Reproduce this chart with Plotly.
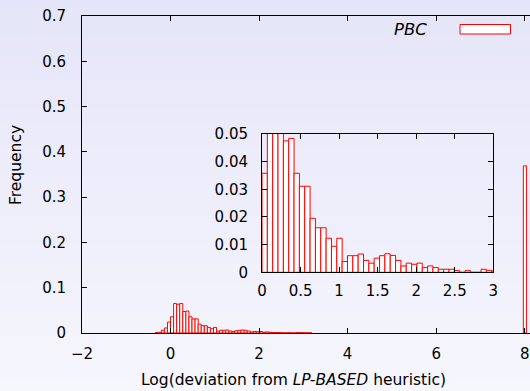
import plotly.graph_objects as go

# ---- data ----
BIN_WIDTH = 0.0693  # histogram bin width in log units
bin_index = [-5, -4, -3, -2, -1,
             0, 1, 2, 3, 4, 5, 6, 7, 8, 9,
             10, 11, 12, 13, 14, 15, 16, 17, 18, 19,
             20, 21, 22, 23, 24, 25, 26, 27, 28, 29,
             30, 31, 32, 33, 34, 35, 36, 37, 38, 39,
             40, 41, 42, 43, 44, 45,
             115]
freq = [0.001, 0.0015, 0.006, 0.011, 0.024,
        0.0358, 0.065, 0.0635, 0.065, 0.0475, 0.0484, 0.0358, 0.0311, 0.0311, 0.0195,
        0.0161, 0.0161, 0.0123, 0.0094, 0.0123, 0.0039, 0.006, 0.006, 0.0066, 0.0043,
        0.0033, 0.0051, 0.006, 0.0067, 0.0061, 0.0043, 0.0023, 0.0033, 0.0029, 0.0033,
        0.0017, 0.0023, 0.0017, 0.0011, 0.0011, 0.0011, 0.0006, 0.0, 0.0006, 0.0,
        0.0, 0.0011, 0.0007, 0.0005, 0.0004, 0.0004,
        0.369]
series_name = "PBC"

main_xticks = [-2, 0, 2, 4, 6, 8]
main_yticks = [0, 0.1, 0.2, 0.3, 0.4, 0.5, 0.6, 0.7]
inset_xticks = [0, 0.5, 1, 1.5, 2, 2.5, 3]
inset_yticks = [0, 0.01, 0.02, 0.03, 0.04, 0.05]

bin_left = [k * BIN_WIDTH for k in bin_index]

# ---- figure ----
W, H = 530, 391
ML, MR, MT, MB = 82, 0, 16, 58
PW, PH = W - ML - MR, H - MT - MB

def px_to_paper_x(px):
    return (px - ML) / PW

def px_to_paper_y(py):
    return (H - MB - py) / PH

bar_style = dict(color="white", line=dict(color="#ff0000", width=1))

fig = go.Figure()
fig.add_trace(go.Bar(x=bin_left, y=freq, width=BIN_WIDTH, offset=0,
                     marker=bar_style, xaxis="x", yaxis="y",
                     name=series_name, showlegend=False))
fig.add_trace(go.Bar(x=bin_left, y=freq, width=BIN_WIDTH, offset=0,
                     marker=bar_style, xaxis="x2", yaxis="y2",
                     name=series_name, showlegend=False))

font = "DejaVu Sans, sans-serif"
axis_common = dict(showline=True, linecolor="black", linewidth=1,
                   ticks="inside", ticklen=5, tickcolor="black",
                   showgrid=False, zeroline=False, automargin=False,
                   tickfont=dict(family=font, size=15, color="black"))

# background gradient (top lavender -> lighter bottom)
shapes = []
N = 40
top_c = (229, 229, 249)
bot_c = (246, 246, 253)
y_top = px_to_paper_y(0)
y_bot = px_to_paper_y(H)
for i in range(N):
    t = (i + 0.5) / N
    c = tuple(round(top_c[j] + (bot_c[j] - top_c[j]) * t) for j in range(3))
    y1 = y_top + (y_bot - y_top) * i / N
    y0 = y_top + (y_bot - y_top) * (i + 1) / N
    shapes.append(dict(type="rect", xref="paper", yref="paper",
                       x0=px_to_paper_x(0), x1=px_to_paper_x(W) + 0.01,
                       y0=y0 - 0.002, y1=y1 + 0.002, layer="below",
                       line=dict(width=0), fillcolor="rgb(%d,%d,%d)" % c))

# legend sample box
shapes.append(dict(type="rect", xref="paper", yref="paper",
                   x0=px_to_paper_x(460), x1=px_to_paper_x(510.5),
                   y0=px_to_paper_y(34), y1=px_to_paper_y(24.5),
                   line=dict(color="#ff0000", width=1), fillcolor="white",
                   layer="above"))

annotations = [
    dict(text="<i>" + series_name + "</i>", xref="paper", yref="paper",
         x=px_to_paper_x(429), y=px_to_paper_y(30), xanchor="right",
         yanchor="middle", showarrow=False,
         font=dict(family=font, size=16.5, color="black")),
    dict(text="Frequency", xref="paper", yref="paper",
         x=px_to_paper_x(16), y=px_to_paper_y(165), textangle=-90,
         xanchor="center", yanchor="middle", showarrow=False,
         font=dict(family=font, size=15.5, color="black")),
    dict(text="Log(deviation from <i>LP-BASED</i> heuristic)", xref="paper",
         yref="paper", x=px_to_paper_x(293), y=px_to_paper_y(380),
         xanchor="center", yanchor="middle", showarrow=False,
         font=dict(family=font, size=15.5, color="black")),
]

fig.update_layout(
    width=W, height=H, autosize=False,
    margin=dict(l=ML, r=MR, t=MT, b=MB, pad=0, autoexpand=False),
    paper_bgcolor="rgb(238,238,250)",
    plot_bgcolor="rgba(0,0,0,0)",
    barmode="overlay",
    showlegend=False,
    shapes=shapes,
    annotations=annotations,
    xaxis=dict(range=[-2, 8.12], tickvals=main_xticks, mirror="allticks",
               ticklabelstandoff=7, **axis_common),
    yaxis=dict(range=[0, 0.7], tickvals=main_yticks, mirror=False,
               ticklabelstandoff=12, **axis_common),
    xaxis2=dict(domain=[px_to_paper_x(262), px_to_paper_x(493.3)], anchor="y2",
                range=[0, 3], tickvals=inset_xticks, mirror="allticks",
                ticklabelstandoff=5, **axis_common),
    yaxis2=dict(domain=[px_to_paper_y(272.3), px_to_paper_y(134)], anchor="x2",
                range=[0, 0.05], tickvals=inset_yticks, mirror="allticks",
                ticklabelstandoff=10, **axis_common),
)

fig.write_html("out.html", config={"displayModeBar": False},
               post_script="document.body.style.margin='0px';")
